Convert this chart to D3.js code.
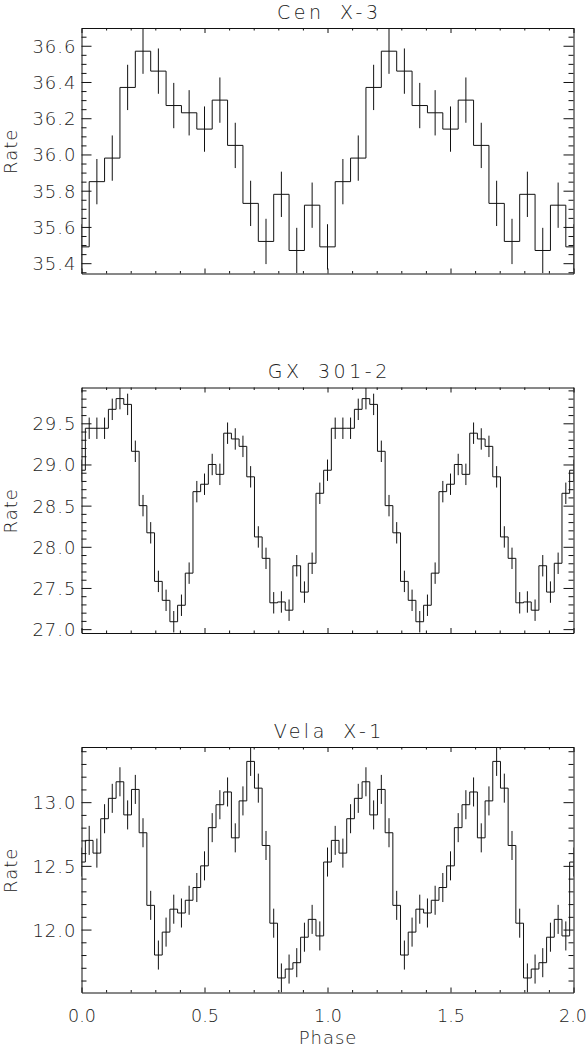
<!DOCTYPE html>
<html>
<head>
<meta charset="utf-8">
<script src="https://cdn.jsdelivr.net/npm/d3@7"></script>
<style>
  html, body { margin: 0; padding: 0; background: #fff; }
  svg { display: block; }
  text { font-family: "DejaVu Sans", sans-serif; font-weight: 200; fill: #222; }
</style>
</head>
<body>
<svg id="chart" width="587" height="1047"></svg>
<script>
// ---- data (phase-folded light curves, one cycle each; plotted over two cycles) ----
const titles = ["Cen X-3", "GX 301-2", "Vela X-1"];
const cenRate = [35.49, 35.85, 35.98, 36.37, 36.57, 36.46, 36.27, 36.23, 36.14, 36.30, 36.05, 35.73, 35.52, 35.78, 35.47, 35.72];
const cenErr = 0.125;
const gxRate = [28.93, 29.44, 29.44, 29.44, 29.67, 29.80, 29.73, 29.16, 28.50, 28.17, 27.58, 27.35, 27.09, 27.29, 27.68, 28.67,
                28.76, 29.00, 28.88, 29.38, 29.31, 29.22, 28.85, 28.12, 27.86, 27.32, 27.33, 27.23, 27.77, 27.45, 27.80, 28.65];
const gxErr = 0.13;
const velaRate = [12.53, 12.70, 12.60, 12.87, 13.03, 13.16, 12.90, 13.10, 12.76, 12.19, 11.80, 11.98, 12.16, 12.13, 12.23, 12.33,
                  12.50, 12.80, 12.98, 13.08, 12.72, 13.01, 13.32, 13.11, 12.66, 12.05, 11.62, 11.69, 11.74, 11.94, 12.08, 11.95];
const velaErr = 0.114;
const yDomains = [[35.343, 36.698], [26.953, 29.935], [11.506, 13.433]];
const yMajorTicks = [[35.4, 35.6, 35.8, 36.0, 36.2, 36.4, 36.6], [27.0, 27.5, 28.0, 28.5, 29.0, 29.5], [12.0, 12.5, 13.0]];
const yMinorStep = [0.05, 0.1, 0.1];
const phaseTicks = [0, 0.5, 1.0, 1.5, 2.0];
const phaseTickLabels = ["0.0", "0.5", "1.0", "1.5", "2.0"];
const phaseMinorStep = 0.1;
const nCycles = 2;

const panels = [
  {rate: cenRate, err: cenErr},
  {rate: gxRate, err: gxErr},
  {rate: velaRate, err: velaErr}
];

// ---- layout ----
const svg = d3.select("#chart");
const left = 81.5, right = 573.5;
const tops = [28, 387.5, 747];
const ph = 245.5;

const x = d3.scaleLinear().domain([0, nCycles]).range([left, right]);

function range(a, b, step) {
  const out = [];
  const n = Math.round((b - a) / step);
  for (let i = 0; i <= n; i++) out.push(+(a + i * step).toFixed(6));
  return out;
}
const xMinor = range(0, nCycles, phaseMinorStep).filter(v => !phaseTicks.some(t => Math.abs(t - v) < 1e-6));

panels.forEach((p, i) => {
  const top = tops[i], bottom = top + ph;
  const y = d3.scaleLinear().domain(yDomains[i]).range([bottom, top]);
  const g = svg.append("g");

  const clipId = "clip" + i;
  svg.append("clipPath").attr("id", clipId)
    .append("rect").attr("x", left).attr("y", top).attr("width", right - left).attr("height", ph);

  // histogram bins over two cycles
  const N = p.rate.length;
  const bins = [];
  for (let k = 0; k <= N * nCycles; k++) {
    const c = k / N;
    bins.push({c: c, x0: Math.max(c - 0.5 / N, 0), x1: Math.min(c + 0.5 / N, nCycles), v: p.rate[k % N]});
  }
  const pts = [];
  bins.forEach(b => { pts.push([b.x0, b.v]); pts.push([b.x1, b.v]); });
  const line = d3.line().x(d => x(d[0])).y(d => y(d[1]));

  const plot = g.append("g").attr("clip-path", `url(#${clipId})`);
  plot.append("path").attr("d", line(pts))
    .attr("fill", "none").attr("stroke", "#111").attr("stroke-width", 1);
  plot.selectAll("line.err").data(bins).enter().append("line")
    .attr("x1", d => x(d.c)).attr("x2", d => x(d.c))
    .attr("y1", d => y(d.v - p.err)).attr("y2", d => y(d.v + p.err))
    .attr("stroke", "#111").attr("stroke-width", 1);

  // minor y ticks
  const [y0, y1] = yDomains[i];
  const st = yMinorStep[i];
  const yMinor = range(Math.ceil(y0 / st - 1e-6) * st, Math.floor(y1 / st + 1e-6) * st, st)
    .filter(v => !yMajorTicks[i].some(t => Math.abs(t - v) < 1e-6));

  const axStyle = sel => {
    sel.selectAll("path, line").attr("stroke", "#111").attr("stroke-width", 1);
  };

  // axes (ticks inward)
  const gl = g.append("g").attr("transform", `translate(${left},0)`)
    .call(d3.axisLeft(y).tickValues(yMajorTicks[i]).tickSizeInner(-10).tickSizeOuter(0).tickPadding(6)
      .tickFormat(d3.format(".1f")));
  gl.call(axStyle);
  gl.selectAll("text").style("font-size", "18px").style("letter-spacing", "1px")
    .attr("x", -5).attr("dy", "0.36em").attr("font-family", null);
  g.append("g").attr("transform", `translate(${left},0)`)
    .call(d3.axisLeft(y).tickValues(yMinor).tickSizeInner(-5).tickSizeOuter(0).tickFormat(""))
    .call(axStyle).call(s => s.select(".domain").remove());

  g.append("g").attr("transform", `translate(${right},0)`)
    .call(d3.axisRight(y).tickValues(yMajorTicks[i]).tickSizeInner(-10).tickSizeOuter(0).tickFormat(""))
    .call(axStyle);
  g.append("g").attr("transform", `translate(${right},0)`)
    .call(d3.axisRight(y).tickValues(yMinor).tickSizeInner(-5).tickSizeOuter(0).tickFormat(""))
    .call(axStyle).call(s => s.select(".domain").remove());

  g.append("g").attr("transform", `translate(0,${top})`)
    .call(d3.axisTop(x).tickValues(phaseTicks).tickSizeInner(-5).tickSizeOuter(0).tickFormat(""))
    .call(axStyle);
  g.append("g").attr("transform", `translate(0,${top})`)
    .call(d3.axisTop(x).tickValues(xMinor).tickSizeInner(-2.5).tickSizeOuter(0).tickFormat(""))
    .call(axStyle).call(s => s.select(".domain").remove());

  const gb = g.append("g").attr("transform", `translate(0,${bottom})`)
    .call(d3.axisBottom(x).tickValues(phaseTicks).tickSizeInner(-5).tickSizeOuter(0)
      .tickFormat((d, j) => i === panels.length - 1 ? phaseTickLabels[j] : ""));
  gb.call(axStyle);
  gb.selectAll("text").style("font-size", "17.5px")
    .attr("y", 29).attr("dy", null).attr("font-family", null)
    .attr("dx", (d, j) => j === phaseTicks.length - 1 ? -1 : 0);
  g.append("g").attr("transform", `translate(0,${bottom})`)
    .call(d3.axisBottom(x).tickValues(xMinor).tickSizeInner(-2.5).tickSizeOuter(0).tickFormat(""))
    .call(axStyle).call(s => s.select(".domain").remove());

  // title
  g.append("text").attr("x", (left + right) / 2 + 1.75).attr("y", top - 9.5)
    .attr("text-anchor", "middle").style("font-size", "19px")
    .style("letter-spacing", "3.5px").style("word-spacing", "6px")
    .text(titles[i]);

  // y label
  g.append("text").attr("transform", `translate(16.5,${(top + bottom) / 2 + 0.5}) rotate(-90)`)
    .attr("text-anchor", "middle").style("font-size", "18px").style("letter-spacing", "1px")
    .text("Rate");
});

svg.append("text").attr("x", (left + right) / 2 + 0.5).attr("y", 1044)
  .attr("text-anchor", "middle").style("font-size", "18px").style("letter-spacing", "1px")
  .text("Phase");
</script>
</body>
</html>
